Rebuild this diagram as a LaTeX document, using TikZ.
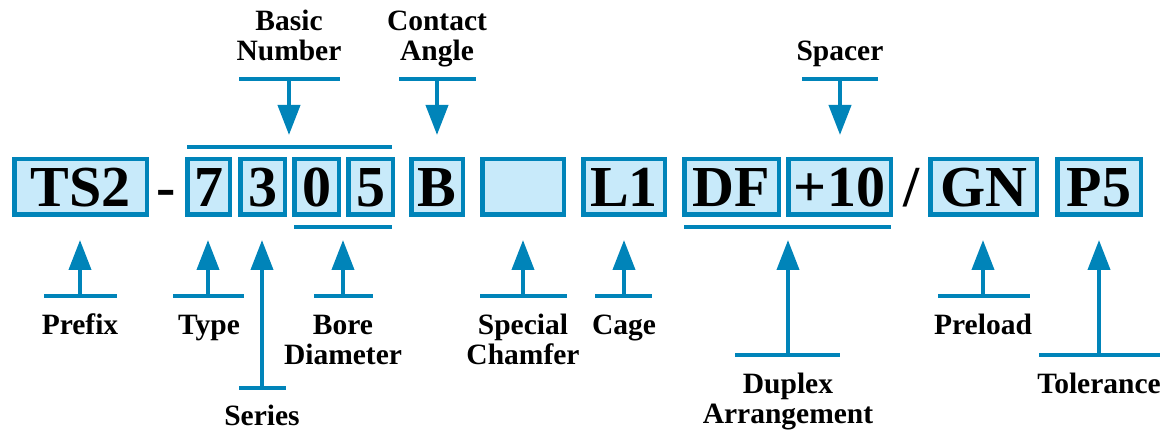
\documentclass[tikz,border=0pt]{standalone}
\usepackage{fontspec}
\setmainfont{Liberation Serif}
\usetikzlibrary{arrows.meta}
\definecolor{pblue}{RGB}{0,132,185}
\definecolor{pfill}{RGB}{200,234,250}
\begin{document}
\begin{tikzpicture}[x=1pt,y=-1pt,
  box/.style={draw=pblue,fill=pfill,line width=4.5pt,inner sep=0pt,
    minimum height=55.5pt,font=\fontsize{58}{60}\selectfont\bfseries,
    text height=38.4pt,text depth=0pt},
  sym/.style={font=\fontsize{58}{60}\selectfont\bfseries,inner sep=0pt,anchor=base},
  lbl/.style={font=\fontsize{29.5}{30}\selectfont\bfseries,align=center,inner sep=0pt,anchor=base},
  bar/.style={draw=pblue,line width=4pt},
  arr/.style={draw=pblue,line width=4pt,-{Triangle[length=30pt,width=22pt]}}]
\useasboundingbox (0,0) rectangle (1168,430);

% code boxes
\node[box,minimum width=132.5pt] (ts2) at (80.5,187) {TS2};
\node[sym] (dash) at (166.5,207) {-};
\node[box,minimum width=42.5pt] (d7) at (208.5,187) {7};
\node[box,minimum width=44.5pt] (d3) at (262.5,187) {3};
\node[box,minimum width=44.5pt] (d0) at (316.5,187) {0};
\node[box,minimum width=44.5pt] (d5) at (370.5,187) {5};
\node[box,minimum width=51.5pt] (b) at (437,187) {B};
\node[box,minimum width=81.5pt] (empty) at (523,187) {};
\node[box,minimum width=81.5pt] (l1) at (624,187) {L1};
\node[box,minimum width=94.5pt] (df) at (731.5,187) {DF};
\node[box,minimum width=102.5pt] (p10) at (839.5,187) {+10};
\node[sym] (slash) at (912,207) {/};
\node[box,minimum width=106.5pt] (gn) at (983.5,187) {GN};
\node[box,minimum width=83.5pt] (p5) at (1099,187) {P5};

% brackets
\coordinate (bnL) at (187,147); \coordinate (bnR) at (392,147);
\coordinate (boL) at (294,227); \coordinate (boR) at (392,227);
\coordinate (duL) at (684,227); \coordinate (duR) at (891,227);
\draw[bar] (bnL) -- (bnR);
\draw[bar] (boL) -- (boR);
\draw[bar] (duL) -- (duR);

% top labels (base anchor = baseline of last line)
\node[lbl] (basic) at (289,61) {Basic\\Number};
\node[lbl] (contact) at (437,61) {Contact\\Angle};
\node[lbl] (spacer) at (840,61) {Spacer};

\coordinate (basicA) at (239,79); \coordinate (basicB) at (340,79);
\coordinate (basicS) at (289,79); \coordinate (basicT) at (289,135);
\draw[bar] (basicA) -- (basicB); \draw[arr] (basicS) -- (basicT);

\coordinate (contA) at (399,79); \coordinate (contB) at (476,79);
\coordinate (contS) at (437,79); \coordinate (contT) at (437,135);
\draw[bar] (contA) -- (contB); \draw[arr] (contS) -- (contT);

\coordinate (spA) at (802,79); \coordinate (spB) at (878,79);
\coordinate (spS) at (840,79); \coordinate (spT) at (840,135);
\draw[bar] (spA) -- (spB); \draw[arr] (spS) -- (spT);

% bottom labels
\node[lbl] (prefix) at (80,335) {Prefix};
\node[lbl] (type) at (209,335) {Type};
\node[lbl] (series) at (262,425) {Series};
\node[lbl] (bore) at (343,365) {Bore\\Diameter};
\node[lbl] (special) at (523,365) {Special\\Chamfer};
\node[lbl] (cage) at (624,335) {Cage};
\node[lbl] (duplex) at (788,423) {Duplex\\Arrangement};
\node[lbl] (preload) at (983,335) {Preload};
\node[lbl] (tol) at (1099,393) {Tolerance};

\coordinate (prA) at (44,296); \coordinate (prB) at (117,296);
\coordinate (prS) at (80,296); \coordinate (prT) at (80,240);
\draw[bar] (prA) -- (prB); \draw[arr] (prS) -- (prT);

\coordinate (tyA) at (173,296); \coordinate (tyB) at (244,296);
\coordinate (tyS) at (208,296); \coordinate (tyT) at (208,240);
\draw[bar] (tyA) -- (tyB); \draw[arr] (tyS) -- (tyT);

\coordinate (seA) at (239,388); \coordinate (seB) at (286,388);
\coordinate (seS) at (262,388); \coordinate (seT) at (262,240);
\draw[bar] (seA) -- (seB); \draw[arr] (seS) -- (seT);

\coordinate (boA) at (314,296); \coordinate (boB) at (373,296);
\coordinate (boS) at (343,296); \coordinate (boT) at (343,240);
\draw[bar] (boA) -- (boB); \draw[arr] (boS) -- (boT);

\coordinate (scA) at (480,296); \coordinate (scB) at (567,296);
\coordinate (scS) at (523,296); \coordinate (scT) at (523,240);
\draw[bar] (scA) -- (scB); \draw[arr] (scS) -- (scT);

\coordinate (caA) at (595,296); \coordinate (caB) at (652,296);
\coordinate (caS) at (624,296); \coordinate (caT) at (624,240);
\draw[bar] (caA) -- (caB); \draw[arr] (caS) -- (caT);

\coordinate (dpA) at (735,355); \coordinate (dpB) at (840,355);
\coordinate (dpS) at (788,355); \coordinate (dpT) at (788,240);
\draw[bar] (dpA) -- (dpB); \draw[arr] (dpS) -- (dpT);

\coordinate (plA) at (938,296); \coordinate (plB) at (1030,296);
\coordinate (plS) at (983,296); \coordinate (plT) at (983,240);
\draw[bar] (plA) -- (plB); \draw[arr] (plS) -- (plT);

\coordinate (toA) at (1039,355); \coordinate (toB) at (1160,355);
\coordinate (toS) at (1099,355); \coordinate (toT) at (1099,240);
\draw[bar] (toA) -- (toB); \draw[arr] (toS) -- (toT);
\end{tikzpicture}
\end{document}
